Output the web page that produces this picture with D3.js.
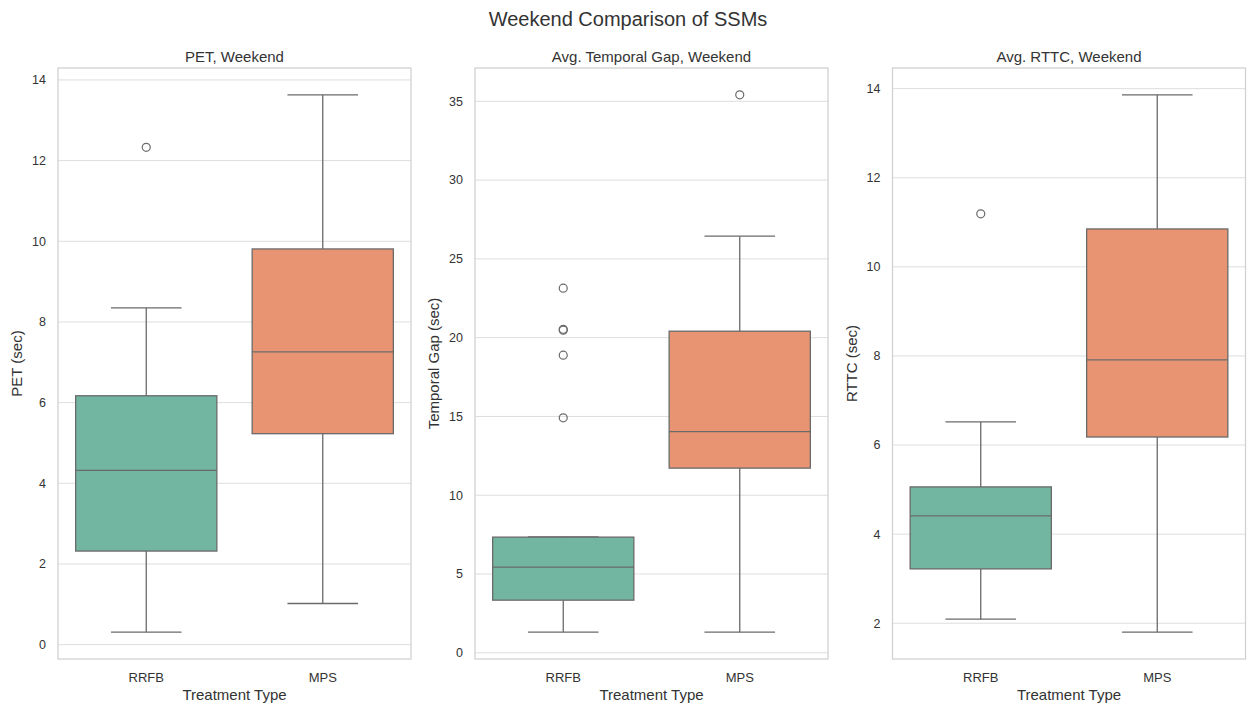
<!DOCTYPE html>
<html>
<head>
<meta charset="utf-8">
<script src="https://cdn.jsdelivr.net/npm/d3@7"></script>
<style>
  body { margin: 0; background: #fff; }
  svg text { font-family: "Liberation Sans", Arial, sans-serif; fill: #333; }
</style>
</head>
<body>
<div id="chart"></div>
<script>
// categories and colours
const categories = ["RRFB", "MPS"];
const boxColors = ["#72b6a1", "#e89472"];

// five-number summaries per category: [whiskerLow, q1, median, q3, whiskerHigh]
const petStats = [[0.31, 2.32, 4.32, 6.17, 8.35], [1.02, 5.23, 7.26, 9.81, 13.63]];
const petOutliers = [[12.33], []];
const petTicks = [0, 2, 4, 6, 8, 10, 12, 14];

const gapStats = [[1.31, 3.34, 5.44, 7.34, 7.36], [1.31, 11.72, 14.04, 20.41, 26.44]];
const gapOutliers = [[14.91, 18.89, 20.47, 20.53, 23.14], [35.41]];
const gapTicks = [0, 5, 10, 15, 20, 25, 30, 35];

const rttcStats = [[2.09, 3.22, 4.41, 5.06, 6.52], [1.80, 6.18, 7.91, 10.85, 13.86]];
const rttcOutliers = [[11.19], []];
const rttcTicks = [2, 4, 6, 8, 10, 12, 14];

const panels = [
    { title: "PET, Weekend", ylabel: "PET (sec)", stats: petStats, outliers: petOutliers, ticks: petTicks, left: 58 },
    { title: "Avg. Temporal Gap, Weekend", ylabel: "Temporal Gap (sec)", stats: gapStats, outliers: gapOutliers, ticks: gapTicks, left: 475 },
    { title: "Avg. RTTC, Weekend", ylabel: "RTTC (sec)", stats: rttcStats, outliers: rttcOutliers, ticks: rttcTicks, left: 892.5 }
];

const width = 1249, height = 707;
const plotW = 353, plotTop = 68, plotBottom = 659;
const lineColor = "#6a6a6a";

const svg = d3.select("#chart").append("svg")
    .attr("width", width)
    .attr("height", height);

svg.append("text")
    .attr("x", 628)
    .attr("y", 26)
    .attr("text-anchor", "middle")
    .style("font-size", "20px")
    .text("Weekend Comparison of SSMs");

panels.forEach((p) => {
    const g = svg.append("g").attr("transform", `translate(${p.left},${plotTop})`);
    const h = plotBottom - plotTop;

    // y domain from data extent with a 5% margin, like matplotlib
    const allVals = p.stats.flat().concat(p.outliers.flat());
    const lo = d3.min(allVals), hi = d3.max(allVals);
    const pad = (hi - lo) * 0.05;
    const y = d3.scaleLinear().domain([lo - pad, hi + pad]).range([h, 0]);
    const x = d3.scaleBand().domain(categories).range([0, plotW])
        .paddingInner(0.2).paddingOuter(0.1);

    // grid
    g.selectAll(".grid")
        .data(p.ticks)
        .enter()
        .append("line")
        .attr("x1", 0)
        .attr("x2", plotW)
        .attr("y1", (d) => y(d))
        .attr("y2", (d) => y(d))
        .attr("stroke", "#dedede")
        .attr("stroke-width", 1);

    // y tick labels
    g.selectAll(".ytick")
        .data(p.ticks)
        .enter()
        .append("text")
        .attr("x", -12)
        .attr("y", (d) => y(d))
        .attr("dy", "0.35em")
        .attr("text-anchor", "end")
        .style("font-size", "12.5px")
        .text((d) => d);

    // x tick labels
    g.selectAll(".xtick")
        .data(categories)
        .enter()
        .append("text")
        .attr("x", (d) => x(d) + x.bandwidth() / 2)
        .attr("y", h + 23)
        .attr("text-anchor", "middle")
        .style("font-size", "13px")
        .text((d) => d);

    const boxes = g.selectAll(".box")
        .data(categories.map((c, i) => ({ cat: c, s: p.stats[i], out: p.outliers[i], color: boxColors[i] })))
        .enter()
        .append("g");

    const cx = (d) => x(d.cat) + x.bandwidth() / 2;
    const bw = x.bandwidth();

    // whiskers
    boxes.append("line")
        .attr("x1", cx).attr("x2", cx)
        .attr("y1", (d) => y(d.s[0])).attr("y2", (d) => y(d.s[1]))
        .attr("stroke", lineColor).attr("stroke-width", 1.3);
    boxes.append("line")
        .attr("x1", cx).attr("x2", cx)
        .attr("y1", (d) => y(d.s[3])).attr("y2", (d) => y(d.s[4]))
        .attr("stroke", lineColor).attr("stroke-width", 1.3);
    // caps
    [0, 4].forEach((k) => {
        boxes.append("line")
            .attr("x1", (d) => cx(d) - bw / 4).attr("x2", (d) => cx(d) + bw / 4)
            .attr("y1", (d) => y(d.s[k])).attr("y2", (d) => y(d.s[k]))
            .attr("stroke", lineColor).attr("stroke-width", 1.3);
    });

    // box
    boxes.append("rect")
        .attr("x", (d) => x(d.cat))
        .attr("width", bw)
        .attr("y", (d) => y(d.s[3]))
        .attr("height", (d) => y(d.s[1]) - y(d.s[3]))
        .attr("fill", (d) => d.color)
        .attr("stroke", lineColor)
        .attr("stroke-width", 1.3);

    // median
    boxes.append("line")
        .attr("x1", (d) => x(d.cat)).attr("x2", (d) => x(d.cat) + bw)
        .attr("y1", (d) => y(d.s[2])).attr("y2", (d) => y(d.s[2]))
        .attr("stroke", lineColor).attr("stroke-width", 1.3);

    // outliers
    boxes.each(function (d) {
        d3.select(this).selectAll("circle")
            .data(d.out)
            .enter()
            .append("circle")
            .attr("cx", cx(d))
            .attr("cy", (v) => y(v))
            .attr("r", 4)
            .attr("fill", "none")
            .attr("stroke", lineColor)
            .attr("stroke-width", 1.2);
    });

    // frame
    g.append("rect")
        .attr("width", plotW)
        .attr("height", h)
        .attr("fill", "none")
        .attr("stroke", "#d0d0d0")
        .attr("stroke-width", 1.25);

    // titles and labels
    g.append("text")
        .attr("x", plotW / 2)
        .attr("y", -6)
        .attr("text-anchor", "middle")
        .style("font-size", "15px")
        .text(p.title);

    g.append("text")
        .attr("x", plotW / 2)
        .attr("y", h + 41)
        .attr("text-anchor", "middle")
        .style("font-size", "15px")
        .text("Treatment Type");

    g.append("text")
        .attr("transform", `translate(${-36},${h / 2}) rotate(-90)`)
        .attr("text-anchor", "middle")
        .style("font-size", "15px")
        .text(p.ylabel);
});
</script>
</body>
</html>
